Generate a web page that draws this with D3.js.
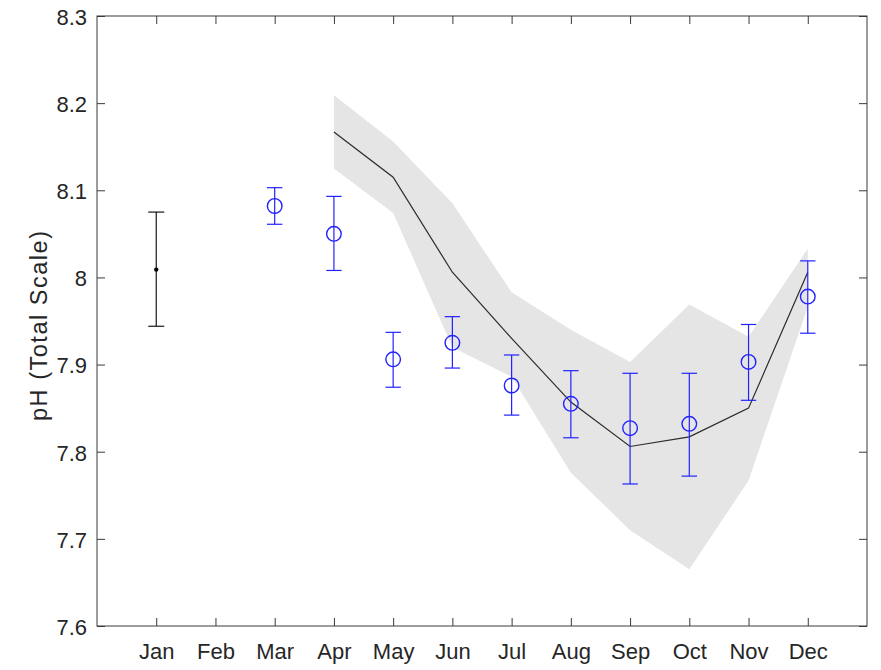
<!DOCTYPE html>
<html>
<head>
<meta charset="utf-8">
<script src="https://cdn.jsdelivr.net/npm/d3@7"></script>
<style>
  html, body { margin: 0; padding: 0; background: #ffffff; }
  svg { display: block; }
  text { font-family: "Liberation Sans", Arial, sans-serif; }
</style>
</head>
<body>
<svg id="chart" width="881" height="670"></svg>
<script>
// ---- Data ----
const months = ["Jan","Feb","Mar","Apr","May","Jun","Jul","Aug","Sep","Oct","Nov","Dec"];
const yTickValues = [7.6, 7.7, 7.8, 7.9, 8.0, 8.1, 8.2, 8.3];
const yTickLabels = ["7.6","7.7","7.8","7.9","8","8.1","8.2","8.3"];

// Model mean line and shaded range (Apr..Dec)
const modelMonths = [4, 5, 6, 7, 8, 9, 10, 11, 12];
const modelMean  = [8.167, 8.115, 8.006, 7.930, 7.857, 7.806, 7.817, 7.850, 8.006];
const modelUpper = [8.209, 8.156, 8.085, 7.983, 7.940, 7.903, 7.969, 7.932, 8.033];
const modelLower = [8.125, 8.074, 7.920, 7.886, 7.776, 7.710, 7.665, 7.767, 7.966];

// Observations (blue circles with error bars, Mar..Dec)
const obsMonths = [3, 4, 5, 6, 7, 8, 9, 10, 11, 12];
const obsMean  = [8.082, 8.050, 7.906, 7.925, 7.876, 7.855, 7.827, 7.832, 7.903, 7.978];
const obsUpper = [8.103, 8.093, 7.937, 7.955, 7.911, 7.893, 7.890, 7.890, 7.946, 8.019];
const obsLower = [8.061, 8.008, 7.874, 7.896, 7.842, 7.816, 7.763, 7.772, 7.859, 7.936];

// Single black point with error bar (Jan)
const blackMonths = [1];
const blackMean  = [8.009];
const blackUpper = [8.075];
const blackLower = [7.944];

// ---- Layout ----
const svg = d3.select("#chart");
const pLeft = 97, pRight = 867, pTop = 16, pBottom = 626;
const x = d3.scaleLinear().domain([0, 13]).range([pLeft, pRight]);
const y = d3.scaleLinear().domain([7.6, 8.3]).range([pBottom, pTop]);
const axisColor = "#3a3a3a";
const textColor = "#262626";

// Band
const bandData = modelMonths.map((m, i) => ({m, lo: modelLower[i], hi: modelUpper[i]}));
svg.append("path")
  .datum(bandData)
  .attr("fill", "#e5e5e5")
  .attr("stroke", "none")
  .attr("d", d3.area().x(d => x(d.m)).y0(d => y(d.lo)).y1(d => y(d.hi)));

// Model line
const lineData = modelMonths.map((m, i) => ({m, v: modelMean[i]}));
svg.append("path")
  .datum(lineData)
  .attr("fill", "none")
  .attr("stroke", "#2b2b2b")
  .attr("stroke-width", 1.2)
  .attr("d", d3.line().x(d => x(d.m)).y(d => y(d.v)));

// Error bar helper
function errorBars(monthsArr, mean, up, lo, color, capHalf, width) {
  const data = monthsArr.map((m, i) => ({m, v: mean[i], u: up[i], l: lo[i]}));
  const g = svg.append("g").attr("stroke", color).attr("stroke-width", width).attr("fill", "none");
  g.selectAll("line.v").data(data).join("line").attr("class", "v")
    .attr("x1", d => x(d.m)).attr("x2", d => x(d.m))
    .attr("y1", d => y(d.u)).attr("y2", d => y(d.l));
  g.selectAll("line.t").data(data).join("line").attr("class", "t")
    .attr("x1", d => x(d.m) - capHalf).attr("x2", d => x(d.m) + capHalf)
    .attr("y1", d => y(d.u)).attr("y2", d => y(d.u));
  g.selectAll("line.b").data(data).join("line").attr("class", "b")
    .attr("x1", d => x(d.m) - capHalf).attr("x2", d => x(d.m) + capHalf)
    .attr("y1", d => y(d.l)).attr("y2", d => y(d.l));
  return {g, data};
}

// Black Jan point
const blk = errorBars(blackMonths, blackMean, blackUpper, blackLower, "#000000", 8, 1.1);
svg.append("g").selectAll("circle").data(blk.data).join("circle")
  .attr("cx", d => x(d.m)).attr("cy", d => y(d.v)).attr("r", 2.2).attr("fill", "#000000");

// Blue observations
const blu = errorBars(obsMonths, obsMean, obsUpper, obsLower, "#2222ff", 7.7, 1.2);
blu.g.selectAll("circle").data(blu.data).join("circle")
  .attr("cx", d => x(d.m)).attr("cy", d => y(d.v)).attr("r", 7.3)
  .attr("fill", "none").attr("stroke-width", 1.4);

// ---- Axes ----
const tickLen = 8;
const xAxis = d3.axisBottom(x).tickValues(d3.range(1, 13))
  .tickFormat(d => months[d - 1]).tickSizeInner(-tickLen).tickSizeOuter(0).tickPadding(17);
const gx = svg.append("g").attr("transform", `translate(0,${pBottom})`).call(xAxis);
const xTop = d3.axisTop(x).tickValues(d3.range(1, 13)).tickFormat("").tickSizeInner(-tickLen).tickSizeOuter(0);
const gxt = svg.append("g").attr("transform", `translate(0,${pTop})`).call(xTop);

const yAxis = d3.axisLeft(y).tickValues(yTickValues)
  .tickFormat((d, i) => yTickLabels[i]).tickSizeInner(-tickLen).tickSizeOuter(0).tickPadding(10);
const gy = svg.append("g").attr("transform", `translate(${pLeft},0)`).call(yAxis);
const yRight = d3.axisRight(y).tickValues(yTickValues).tickFormat("").tickSizeInner(-tickLen).tickSizeOuter(0);
const gyr = svg.append("g").attr("transform", `translate(${pRight},0)`).call(yRight);

[gx, gxt, gy, gyr].forEach(g => {
  g.select(".domain").remove();
  g.selectAll(".tick line").attr("stroke", axisColor).attr("stroke-width", 1);
  g.selectAll(".tick text").attr("fill", textColor).style("font-size", "22px")
    .style("font-family", "'Liberation Sans', Arial, sans-serif");
});
gy.selectAll(".tick text").attr("dy", "0.38em");

// Box
svg.append("rect")
  .attr("x", pLeft).attr("y", pTop).attr("width", pRight - pLeft).attr("height", pBottom - pTop)
  .attr("fill", "none").attr("stroke", axisColor).attr("stroke-width", 1);

// Y label
svg.append("text")
  .attr("transform", `translate(47,326) rotate(-90)`)
  .attr("text-anchor", "middle")
  .attr("fill", textColor)
  .attr("textLength", 190)
  .attr("lengthAdjust", "spacing")
  .style("font-size", "23.5px")
  .text("pH (Total Scale)");
</script>
</body>
</html>
